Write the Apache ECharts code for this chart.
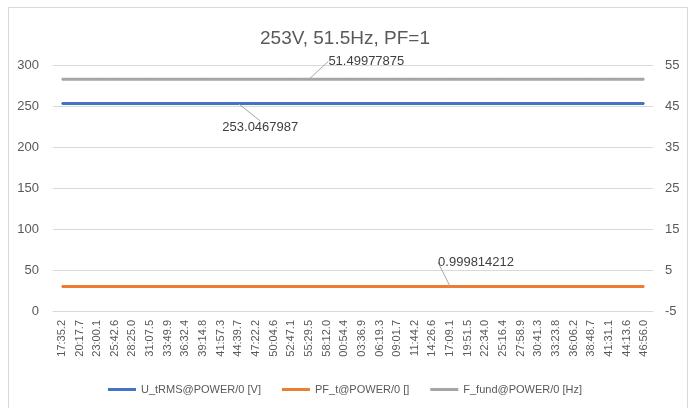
<!DOCTYPE html>
<html>
<head>
<meta charset="utf-8">
<script src="https://cdn.jsdelivr.net/npm/echarts@6/dist/echarts.min.js"></script>
<style>
  html, body { margin: 0; padding: 0; background: #fff; }
  #frame { position: absolute; left: 8px; top: 7px; width: 680px; height: 420px; border: 1px solid #d9d9d9; box-sizing: border-box; }
  #chart { position: absolute; left: 0; top: 0; width: 690px; height: 408px; }
</style>
</head>
<body>
<div id="frame"></div>
<div id="chart"></div>
<script>
// time stamps shown on the category axis
const categories = ['17:35.2', '20:17.7', '23:00.1', '25:42.6', '28:25.0', '31:07.5', '33:49.9', '36:32.4', '39:14.8', '41:57.3', '44:39.7', '47:22.2', '50:04.6', '52:47.1', '55:29.5', '58:12.0', '00:54.4', '03:36.9', '06:19.3', '09:01.7', '11:44.2', '14:26.6', '17:09.1', '19:51.5', '22:34.0', '25:16.4', '27:58.9', '30:41.3', '33:23.8', '36:06.2', '38:48.7', '41:31.1', '44:13.6', '46:56.0'];

const uRms = [253.05, 253.05, 253.04, 253.05, 253.05, 253.05, 253.04, 253.05, 253.05, 253.05, 253.0467987, 253.05, 253.05, 253.04, 253.05, 253.05, 253.05, 253.05, 253.04, 253.05, 253.05, 253.05, 253.05, 253.05, 253.04, 253.05, 253.05, 253.05, 253.05, 253.05, 253.04, 253.05, 253.05, 253.05];
const pf = [0.9998, 0.9998, 0.9998, 0.9998, 0.9998, 0.9998, 0.9998, 0.9998, 0.9998, 0.9998, 0.9998, 0.9998, 0.9998, 0.9998, 0.9998, 0.9998, 0.9998, 0.9998, 0.9998, 0.9998, 0.9998, 0.9998, 0.999814212, 0.9998, 0.9998, 0.9998, 0.9998, 0.9998, 0.9998, 0.9998, 0.9998, 0.9998, 0.9998, 0.9998];
const fFund = [51.5, 51.5, 51.5, 51.5, 51.5, 51.5, 51.5, 51.5, 51.5, 51.5, 51.5, 51.5, 51.5, 51.5, 51.49977875, 51.5, 51.5, 51.5, 51.5, 51.5, 51.5, 51.5, 51.5, 51.5, 51.5, 51.5, 51.5, 51.5, 51.5, 51.5, 51.5, 51.5, 51.5, 51.5];

const seriesNames = ['U_tRMS@POWER/0 [V]', 'PF_t@POWER/0 []', 'F_fund@POWER/0 [Hz]'];
const titleText = '253V, 51.5Hz, PF=1';

// which point carries the value label
const uLabelIdx = 10;
const pfLabelIdx = 22;
const fLabelIdx = 14;

const font = '"Liberation Sans", Arial, sans-serif';
const txt = '#595959';

function withLabel(arr, idx, labelOpt) {
  return arr.map((v, i) => i === idx ? { value: v, label: Object.assign({ show: true, formatter: String(v), color: '#404040', fontSize: 13, fontFamily: font }, labelOpt) } : v);
}

function lineSeries(name, axis, data, color, idx, pos, dx, dy) {
  return {
    name: name, type: 'line', yAxisIndex: axis,
    data: withLabel(data, idx, { position: pos }),
    symbol: 'circle', symbolSize: 1, showSymbol: true,
    lineStyle: { width: 3, color: color }, itemStyle: { color: color },
    labelLine: { show: true, lineStyle: { color: '#a6a6a6', width: 1 } },
    labelLayout: p => p.dataIndex === idx ? { dx: dx, dy: dy } : {}
  };
}

const chart = echarts.init(document.getElementById('chart'));
const option = {
  animation: false,
  title: {
    text: titleText,
    left: 'center',
    top: 24,
    textStyle: { color: txt, fontSize: 19, fontWeight: 'normal', fontFamily: font }
  },
  legend: {
    bottom: 8,
    left: 'center',
    itemWidth: 28,
    itemHeight: 3,
    itemGap: 21,
    icon: 'rect',
    textStyle: { color: txt, fontSize: 11, fontFamily: font },
    data: seriesNames
  },
  grid: { left: 53, right: 37, top: 65, bottom: 97 },
  xAxis: {
    type: 'category',
    data: categories,
    axisLine: { lineStyle: { color: '#d9d9d9' } },
    axisTick: { show: false },
    axisLabel: { rotate: 90, interval: 0, color: txt, fontSize: 11, fontFamily: font, margin: 9 }
  },
  yAxis: [
    {
      type: 'value', min: 0, max: 300, interval: 50,
      axisLabel: { color: txt, fontSize: 13, fontFamily: font, margin: 14 },
      splitLine: { lineStyle: { color: '#d9d9d9' } }
    },
    {
      type: 'value', min: -5, max: 55, interval: 10,
      axisLabel: { color: txt, fontSize: 13, fontFamily: font, margin: 12 },
      splitLine: { show: false }
    }
  ],
  series: [
    lineSeries(seriesNames[0], 0, uRms, '#4472c4', uLabelIdx, 'bottom', 22, 12),
    lineSeries(seriesNames[1], 1, pf, '#ed7d31', pfLabelIdx, 'top', 26, -12),
    lineSeries(seriesNames[2], 1, fFund, '#a5a5a5', fLabelIdx, 'right', 14, -18)
  ]
};
chart.setOption(option);
</script>
</body>
</html>
